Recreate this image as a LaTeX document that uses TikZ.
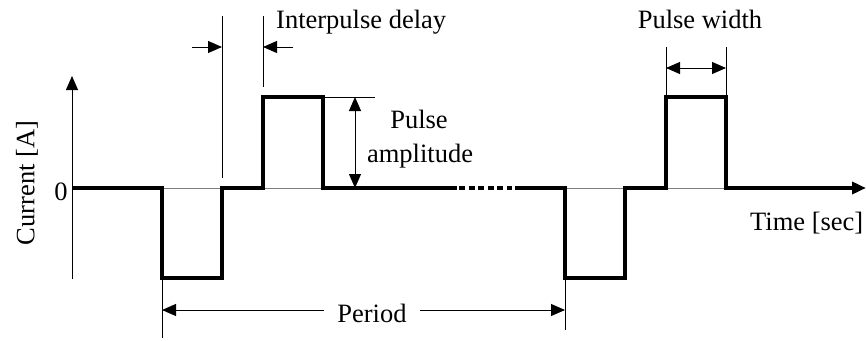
\documentclass[tikz,border=0pt]{standalone}
\usepackage{fontspec}
\setmainfont{Liberation Serif}
\usetikzlibrary{arrows.meta}
\begin{document}
\begin{tikzpicture}[x=1pt,y=-1pt,
  lbl/.style={font=\fontsize{26.5}{30}\selectfont, inner sep=0pt},
  sig/.style={line width=4pt, line join=miter},
  thin/.style={line width=1pt},
  zero/.style={line width=1pt, gray},
  tip/.style={-{Triangle[length=14pt,width=12pt]}},
  dtip/.style={{Triangle[length=14pt,width=12pt]}-{Triangle[length=14pt,width=12pt]}}]
\useasboundingbox (0,0) rectangle (866,340);
% waveform coordinates
\coordinate (o) at (72,188);
\coordinate (a1) at (162,188); \coordinate (a2) at (162,278);
\coordinate (a3) at (222,278); \coordinate (a4) at (222,188);
\coordinate (b1) at (263,188); \coordinate (b2) at (263,97);
\coordinate (b3) at (323,97);  \coordinate (b4) at (323,188);
\coordinate (d1) at (457,188); \coordinate (d2) at (459,188);
\coordinate (d3) at (512,188); \coordinate (d4) at (515,188);
\coordinate (c1) at (565,188); \coordinate (c2) at (565,278);
\coordinate (c3) at (625,278); \coordinate (c4) at (625,188);
\coordinate (e1) at (666,188); \coordinate (e2) at (666,97);
\coordinate (e3) at (726,97);  \coordinate (e4) at (726,188);
\coordinate (tend) at (866,188);
\coordinate (ybot) at (72,279); \coordinate (ytop) at (72,76);
% zero reference lines under pulses
\draw[zero] (a1) -- (a4);
\draw[zero] (b1) -- (b4);
\draw[zero] (c1) -- (c4);
\draw[zero] (e1) -- (e4);
% signal
\draw[sig] (o) -- (a1) -- (a2) -- (a3) -- (a4) -- (b1) -- (b2) -- (b3) -- (b4) -- (d1);
\draw[sig, dash pattern=on 6pt off 3.5pt] (d2) -- (d3);
\draw[sig, tip] (d4) -- (c1) -- (c2) -- (c3) -- (c4) -- (e1) -- (e2) -- (e3) -- (e4) -- (tend);
% vertical axis
\draw[thin, tip] (ybot) -- (ytop);
% labels
\node[lbl, anchor=base] (zlbl) at (61,200) {0};
\node[lbl, anchor=south, rotate=90] (ylbl) at (38,183) {Current [A]};
\node[lbl, anchor=base west] (tlbl) at (750,230) {Time [sec]};
\node[lbl, anchor=base west] (ipd) at (276,28) {Interpulse delay};
\node[lbl, anchor=base] (pw) at (700,28) {Pulse width};
\node[lbl, anchor=base] (pa1) at (419,128) {Pulse};
\node[lbl, anchor=base] (pa2) at (420,162) {amplitude};
\node[lbl, anchor=base] (per) at (372,322) {Period};
% interpulse delay
\coordinate (i1t) at (222,16); \coordinate (i1b) at (222,178);
\coordinate (i2t) at (263,16); \coordinate (i2b) at (263,87);
\coordinate (i1a) at (192,47); \coordinate (i1e) at (222,47);
\coordinate (i2a) at (293,47); \coordinate (i2e) at (263,47);
\draw[thin] (i1t) -- (i1b);
\draw[thin] (i2t) -- (i2b);
\draw[thin, tip] (i1a) -- (i1e);
\draw[thin, tip] (i2a) -- (i2e);
% pulse amplitude
\coordinate (pat) at (375,97);
\coordinate (paa) at (355,97); \coordinate (pab) at (355,188);
\draw[thin] (b3) -- (pat);
\draw[thin, dtip] (paa) -- (pab);
% pulse width
\coordinate (w1) at (666,47); \coordinate (w2) at (726,47);
\coordinate (w1a) at (666,68); \coordinate (w2a) at (726,68);
\draw[thin] (w1) -- (e2);
\draw[thin] (w2) -- (e3);
\draw[thin, dtip] (w1a) -- (w2a);
% period
\coordinate (p1b) at (162,338); \coordinate (p2b) at (565,330);
\coordinate (p1) at (162,310); \coordinate (p2) at (565,310);
\draw[thin] (a2) -- (p1b);
\draw[thin] (c2) -- (p2b);
\draw[thin, tip] (per.west |- p1) ++(-13,0) -- (p1);
\draw[thin, tip] (per.east |- p2) ++(13,0) -- (p2);
\end{tikzpicture}
\end{document}
